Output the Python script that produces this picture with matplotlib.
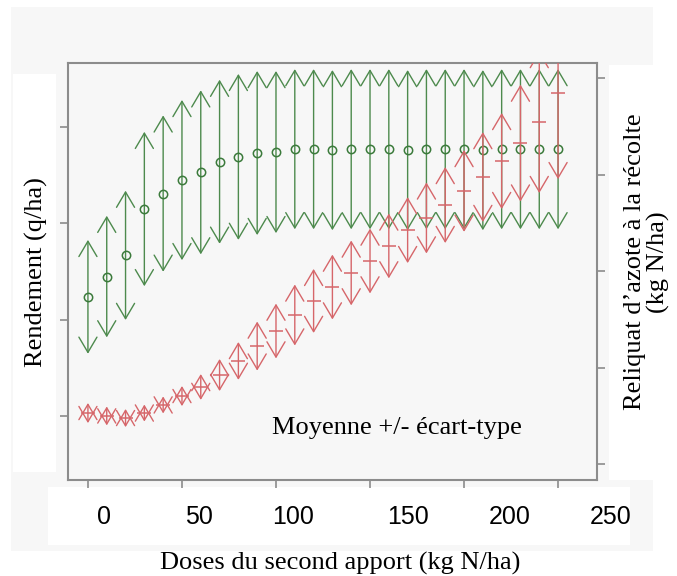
# -*- coding: utf-8 -*-
import matplotlib.pyplot as plt
from matplotlib.patches import Rectangle, FancyArrowPatch

# Données
doses = [0, 10, 20, 30, 40, 50, 60, 70, 80, 90, 100, 110, 120,
         130, 140, 150, 160, 170, 180, 190, 200, 210, 220, 230, 240, 250]

rendement_moy = [62.4, 64.5, 66.7, 71.5, 73.1, 74.5, 75.3, 76.4, 76.9, 77.3,
                 77.4, 77.7, 77.7, 77.6, 77.7, 77.7, 77.7, 77.6, 77.7, 77.7,
                 77.7, 77.6, 77.7, 77.7, 77.7, 77.7]
rendement_et = [5.9, 6.3, 6.7, 8.0, 8.1, 8.3, 8.5, 8.5, 8.6, 8.5,
                8.4, 8.3, 8.3, 8.3, 8.3, 8.3, 8.3, 8.3, 8.3, 8.3,
                8.3, 8.3, 8.3, 8.3, 8.3, 8.3]

reliquat_moy = [26.4, 24.9, 23.8, 26.4, 30.6, 35.2, 39.9, 46.1, 53.4, 61.1,
                68.9, 77.2, 84.5, 91.7, 99.0, 105.2, 113.0, 121.2, 127.5, 134.2,
                141.5, 148.7, 157.0, 166.3, 177.2, 192.2]
reliquat_et = [5.2, 4.9, 4.7, 4.4, 4.4, 5.2, 6.7, 8.3, 9.8, 12.7,
               14.2, 15.8, 16.6, 16.8, 16.8, 16.8, 16.8, 17.1, 18.4, 19.7,
               21.2, 23.3, 24.9, 30.3, 36.8, 44.6]

ticks_x = [0, 50, 100, 150, 200, 250]
ticks_x_labels = ["0", "50", "100", "150", "200", "250"]
ticks_rendement = [50, 60, 70, 80]
ticks_reliquat = [0, 50, 100, 150, 200]

VERT = '#4d8a4d'
ROUGE = '#d6666a'
GRIS = '#8c8c8c'
FOND = '#f7f7f7'

W, H = 677, 576
fig = plt.figure(figsize=(W / 100, H / 100), dpi=100)
fig.patch.set_facecolor('white')


def px(x, y):
    return x / W, 1 - y / H


def rect(x0, y0, x1, y1, couleur):
    fig.add_artist(Rectangle((x0 / W, 1 - y1 / H), (x1 - x0) / W, (y1 - y0) / H,
                             transform=fig.transFigure, facecolor=couleur,
                             edgecolor='none', zorder=-2))


# fonds (image composite)
rect(11, 7, 653, 551, FOND)
rect(13, 74, 56, 472, 'white')
rect(609, 65, 677, 480, 'white')
rect(48, 487, 630, 545, 'white')

ax = fig.add_axes([68 / W, 1 - 480 / H, 529 / W, 417 / H])
ax.set_facecolor(FOND)
ax.set_xlim(-10.6, 270.7)
ax.set_ylim(43.42, 86.63)
ax2 = ax.twinx()
ax2.set_ylim(-8.3, 207.8)

for s in ax.spines.values():
    s.set_color(GRIS)
    s.set_linewidth(1.5)
for s in ax2.spines.values():
    s.set_visible(False)

ax.set_xticks(ticks_x)
ax.set_yticks(ticks_rendement)
ax2.set_yticks(ticks_reliquat)
ax.tick_params(direction='out', length=6, width=1.2, color=GRIS,
               labelbottom=False, labelleft=False)
ax2.tick_params(direction='out', length=6, width=1.2, color=GRIS,
                labelright=False)


def fleches(axe, x, moy, et, couleur):
    for xi, m, e in zip(x, moy, et):
        fl = FancyArrowPatch((xi, m - e), (xi, m + e),
                             arrowstyle='<->,head_length=1.1,head_width=0.65',
                             mutation_scale=10, shrinkA=0, shrinkB=0,
                             color=couleur, lw=1)
        axe.add_patch(fl)


fleches(ax, doses, rendement_moy, rendement_et, VERT)
ax.plot(doses, rendement_moy, 'o', mfc='none', mec='#3b7a3b', ms=6, mew=1.1)

fleches(ax2, doses, reliquat_moy, reliquat_et, ROUGE)
ax2.plot(doses, reliquat_moy, '_', color=ROUGE, ms=10, mew=1.1)

serif = 'Liberation Serif'
fig.text(*px(272, 434), "Moyenne +/- écart-type", family=serif, fontsize=19,
         ha='left', va='baseline')

for lab, xp in zip(ticks_x_labels, [104, 199, 293, 408, 510, 611]):
    fig.text(*px(xp, 517), lab, family='Liberation Sans', fontsize=18,
             ha='center', va='center')

fig.text(*px(340, 563), "Doses du second apport (kg N/ha)", family=serif,
         fontsize=19, ha='center', va='center')
fig.text(*px(36, 272), "Rendement (q/ha)", family=serif, fontsize=19,
         rotation=90, ha='center', va='center')
fig.text(*px(647, 262), "Reliquat d\u2019azote à la récolte\n(kg N/ha)",
         family=serif, fontsize=19, rotation=90, ha='center', va='center',
         linespacing=1.05, multialignment='center')

fig.savefig('out.png', dpi=100)
